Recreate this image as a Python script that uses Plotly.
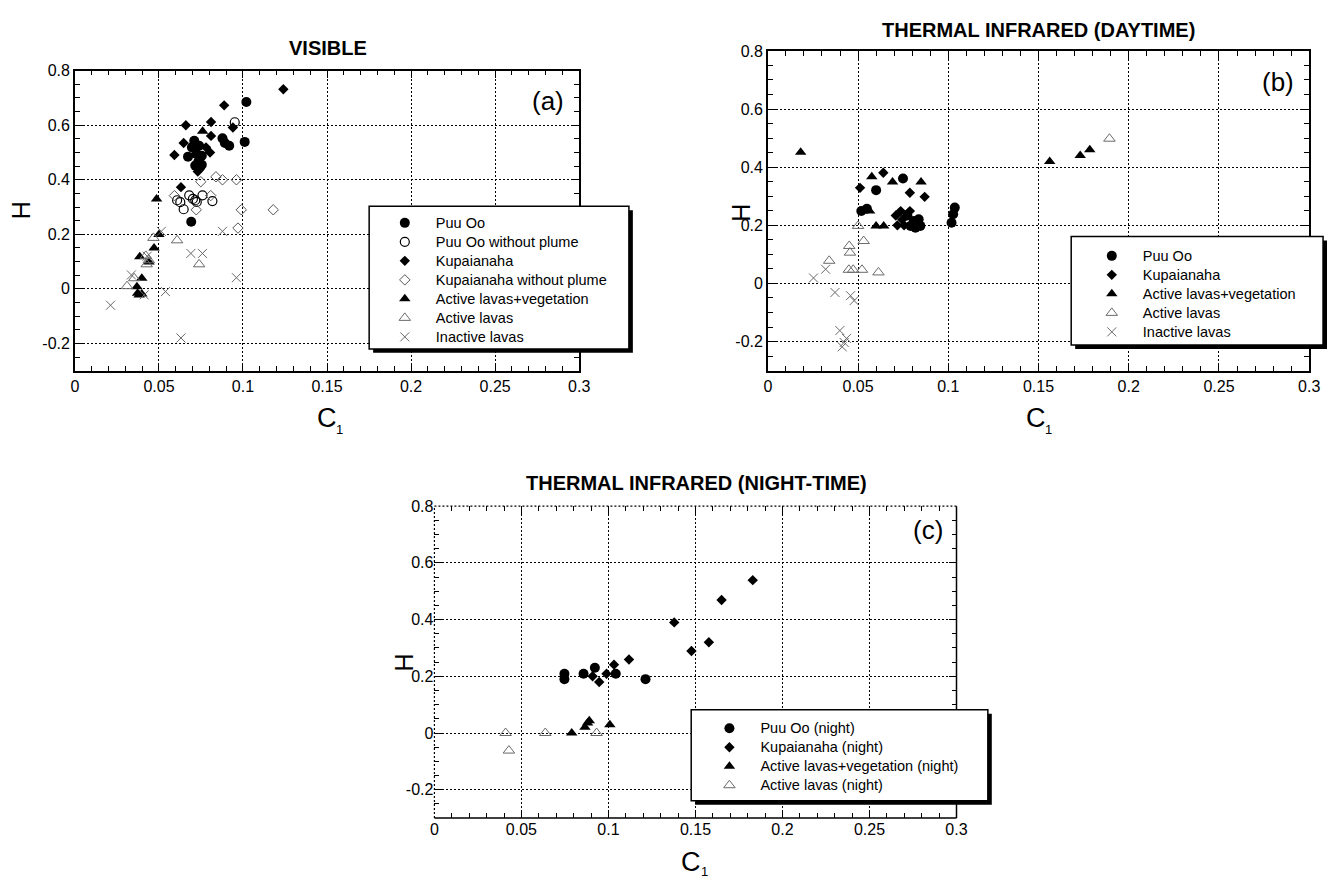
import plotly.graph_objects as go

W, H = 1338, 881

# ---------------- data ----------------
x_ticks = [0, 0.05, 0.1, 0.15, 0.2, 0.25, 0.3]
x_ticklabels = ["0", "0.05", "0.1", "0.15", "0.2", "0.25", "0.3"]
y_ticks = [-0.2, 0, 0.2, 0.4, 0.6, 0.8]
y_ticklabels = ["-0.2", "0", "0.2", "0.4", "0.6", "0.8"]

# Panel (a) VISIBLE
a_puu_x = [0.102, 0.101, 0.0878, 0.0892, 0.0918, 0.071, 0.0696, 0.0673, 0.0739, 0.0722, 0.0755, 0.0735, 0.0716, 0.0745, 0.0755, 0.0692]
a_puu_y = [0.685, 0.539, 0.552, 0.535, 0.525, 0.543, 0.519, 0.485, 0.525, 0.495, 0.488, 0.467, 0.452, 0.446, 0.455, 0.246]
a_puunp_x = [0.0951, 0.0608, 0.0627, 0.0647, 0.068, 0.0702, 0.0716, 0.0725, 0.0759, 0.0818]
a_puunp_y = [0.611, 0.325, 0.318, 0.292, 0.343, 0.33, 0.325, 0.319, 0.343, 0.322]
a_kup_x = [0.124, 0.0888, 0.081, 0.066, 0.081, 0.094, 0.0647, 0.0592, 0.078, 0.0804, 0.0731, 0.0631]
a_kup_y = [0.732, 0.673, 0.612, 0.6, 0.561, 0.592, 0.535, 0.491, 0.519, 0.50, 0.43, 0.373]
a_kupnp_x = [0.0749, 0.0839, 0.0878, 0.0961, 0.0592, 0.0808, 0.0722, 0.099, 0.118, 0.097]
a_kupnp_y = [0.393, 0.411, 0.40, 0.40, 0.342, 0.342, 0.29, 0.29, 0.29, 0.223]
a_alv_x = [0.076, 0.0486, 0.05, 0.0471, 0.0386, 0.0441, 0.0398, 0.0369, 0.0373, 0.0382, 0.0398]
a_alv_y = [0.578, 0.33, 0.199, 0.15, 0.118, 0.099, 0.039, 0.008, -0.016, -0.022, -0.019]
a_al_x = [0.0467, 0.0608, 0.0422, 0.0427, 0.0739, 0.031, 0.0353, 0.044]
a_al_y = [0.187, 0.178, 0.121, 0.09, 0.09, 0.01, 0.039, 0.105]
a_in_x = [0.0514, 0.0878, 0.069, 0.0759, 0.0961, 0.0336, 0.0539, 0.0212, 0.0631, 0.0412, 0.043]
a_in_y = [0.211, 0.211, 0.13, 0.13, 0.041, 0.051, -0.01, -0.06, -0.18, -0.022, 0.12]

# Panel (b) THERMAL INFRARED (DAYTIME)
b_puu_x = [0.0749, 0.06, 0.0518, 0.0549, 0.1036, 0.1027, 0.1018, 0.0773, 0.0809, 0.0836, 0.0818, 0.0845, 0.0791]
b_puu_y = [0.361, 0.321, 0.249, 0.257, 0.261, 0.238, 0.209, 0.234, 0.215, 0.221, 0.192, 0.198, 0.198]
b_kup_x = [0.0511, 0.064, 0.0787, 0.0869, 0.0736, 0.0787, 0.0709, 0.0718, 0.0755, 0.0745]
b_kup_y = [0.329, 0.381, 0.312, 0.298, 0.249, 0.249, 0.234, 0.2, 0.2, 0.22]
b_alv_x = [0.0182, 0.0576, 0.0691, 0.0849, 0.0564, 0.06, 0.0642, 0.1562, 0.1731, 0.1784]
b_alv_y = [0.451, 0.367, 0.349, 0.349, 0.249, 0.198, 0.198, 0.42, 0.44, 0.46]
b_al_x = [0.05, 0.0531, 0.0451, 0.0455, 0.034, 0.0449, 0.0473, 0.0522, 0.0613, 0.1893]
b_al_y = [0.198, 0.146, 0.129, 0.106, 0.078, 0.047, 0.047, 0.047, 0.038, 0.498]
b_in_x = [0.0253, 0.032, 0.0372, 0.0458, 0.0478, 0.0399, 0.0436, 0.0412, 0.0423]
b_in_y = [0.019, 0.049, -0.031, -0.042, -0.059, -0.162, -0.189, -0.218, -0.203]

# Panel (c) THERMAL INFRARED (NIGHT-TIME)
c_puu_x = [0.0747, 0.0747, 0.0857, 0.0922, 0.1042, 0.1213]
c_puu_y = [0.209, 0.19, 0.209, 0.23, 0.209, 0.19]
c_kup_x = [0.0909, 0.0947, 0.0989, 0.1032, 0.1118, 0.1378, 0.1477, 0.1577, 0.165, 0.1829]
c_kup_y = [0.2, 0.18, 0.209, 0.241, 0.259, 0.39, 0.289, 0.32, 0.469, 0.539]
c_alv_x = [0.0789, 0.0865, 0.088, 0.089, 0.1008]
c_alv_y = [0.0, 0.02, 0.035, 0.043, 0.029]
c_al_x = [0.0409, 0.0428, 0.0637, 0.0932]
c_al_y = [0.0, -0.062, 0.0, 0.0]

titles = ["VISIBLE", "THERMAL INFRARED (DAYTIME)", "THERMAL INFRARED (NIGHT-TIME)"]
panel_tags = ["(a)", "(b)", "(c)"]

FONT = "Liberation Sans, Arial, sans-serif"
GRAY = "#6a6a6a"
DOT = "2px,2px"

styles = {
    "puu": dict(symbol="circle", size=10, color="black"),
    "puunp": dict(symbol="circle-open", size=9, color="black", line=dict(width=1.2, color="black")),
    "kup": dict(symbol="diamond", size=8, color="black"),
    "kupnp": dict(symbol="diamond-open", size=8, color="#555555", line=dict(width=1, color="#555555")),
    "alv": dict(symbol="triangle-up", size=10, color="black"),
    "al": dict(symbol="triangle-up-open", size=10, color=GRAY, line=dict(width=1, color=GRAY)),
    "in": dict(symbol="x-thin-open", size=9, color=GRAY, line=dict(width=1, color=GRAY)),
}


def px2paper(x, y):
    return x / W, 1 - y / H


fig = go.Figure()

series = [
    # panel, key, name, xs, ys
    (1, "puu", "Puu Oo", a_puu_x, a_puu_y),
    (1, "puunp", "Puu Oo without plume", a_puunp_x, a_puunp_y),
    (1, "kup", "Kupaianaha", a_kup_x, a_kup_y),
    (1, "kupnp", "Kupaianaha without plume", a_kupnp_x, a_kupnp_y),
    (1, "alv", "Active lavas+vegetation", a_alv_x, a_alv_y),
    (1, "al", "Active lavas", a_al_x, a_al_y),
    (1, "in", "Inactive lavas", a_in_x, a_in_y),
    (2, "puu", "Puu Oo", b_puu_x, b_puu_y),
    (2, "kup", "Kupaianaha", b_kup_x, b_kup_y),
    (2, "alv", "Active lavas+vegetation", b_alv_x, b_alv_y),
    (2, "al", "Active lavas", b_al_x, b_al_y),
    (2, "in", "Inactive lavas", b_in_x, b_in_y),
    (3, "puu", "Puu Oo (night)", c_puu_x, c_puu_y),
    (3, "kup", "Kupaianaha (night)", c_kup_x, c_kup_y),
    (3, "alv", "Active lavas+vegetation (night)", c_alv_x, c_alv_y),
    (3, "al", "Active lavas (night)", c_al_x, c_al_y),
]

for p, key, name, xs, ys in series:
    sfx = "" if p == 1 else str(p)
    fig.add_trace(go.Scatter(
        x=xs, y=ys, mode="markers",
        name='<span style="font-size:14.5px">%s</span>' % name,
        marker=styles[key],
        xaxis="x" + sfx, yaxis="y" + sfx,
        legend="legend" + sfx,
    ))

# axis pixel frames: left, right, top, bottom
frames = [
    (71.7, 581.7, 63.3, 366.0),
    (772.5, 1320.0, 43.3, 366.0),
    (435.3, 963.3, 502.7, 817.5),
]

axis_common = dict(
    linecolor="black", linewidth=1.5, mirror="ticks",
    ticks="inside", ticklen=8, tickwidth=1, tickcolor="black",
    showgrid=True, gridcolor="black", gridwidth=1, griddash=DOT,
    zeroline=False, tickfont=dict(family=FONT, size=16, color="black"),
    fixedrange=True,
)

layout = dict(
    width=W, height=H, autosize=False,
    margin=dict(l=0, r=0, t=0, b=0, pad=0),
    paper_bgcolor="white", plot_bgcolor="white",
    font=dict(family=FONT, color="black"),
)

for i, (l, r, t, b) in enumerate(frames):
    sfx = "" if i == 0 else str(i + 1)
    solid_frame = i < 2  # panel (c) has dotted top/left edges, drawn below as shapes
    layout["xaxis" + sfx] = dict(
        axis_common, showline=solid_frame, domain=[l / W, r / W], range=[0, 0.3],
        tickmode="array", tickvals=x_ticks, ticktext=x_ticklabels,
        minor=dict(dtick=0.01, tick0=0, ticks="inside", ticklen=5, tickcolor="black", showgrid=False),
        anchor="y" + sfx,
    )
    layout["yaxis" + sfx] = dict(
        axis_common, showline=solid_frame, domain=[1 - b / H, 1 - t / H], range=[-0.3, 0.8],
        tickmode="array", tickvals=y_ticks, ticktext=y_ticklabels,
        minor=dict(dtick=0.05, tick0=0, ticks="inside", ticklen=5, tickcolor="black", showgrid=False),
        anchor="x" + sfx,
    )

shapes = []

# frame of panel (c): solid bottom/right, dotted top/left
l, r, t, b = frames[2]
edge_specs = [
    ((l, b), (r, b), dict(width=1.5, color="black")),
    ((r, b), (r, t), dict(width=1.5, color="black")),
    ((l, t), (r, t), dict(width=1.2, color="black", dash=DOT)),
    ((l, b), (l, t), dict(width=1.2, color="black", dash=DOT)),
]
for (p0, p1, ln) in edge_specs:
    x0, y0 = px2paper(*p0)
    x1, y1 = px2paper(*p1)
    shapes.append(dict(type="line", xref="paper", yref="paper", x0=x0, y0=y0, x1=x1, y1=y1,
                       line=ln, layer="above"))

# legend boxes (left, top, right, bottom) and legend anchor (left, top)
boxes = [
    (369.3, 200.0, 632.0, 344.0),
    (1079.3, 230.7, 1334.0, 340.0),
    (695.0, 708.3, 995.0, 800.0),
]
legend_pos = [
    (374.0, 202.2),
    (1089.0, 235.5),
    (702.3, 712.2),
]

for (l, t, r, b) in boxes:
    x0, y0 = px2paper(l + 4, b + 4)
    x1, y1 = px2paper(r + 4, t + 4)
    shapes.append(dict(type="rect", xref="paper", yref="paper", x0=x0, y0=y0, x1=x1, y1=y1,
                       fillcolor="black", line=dict(width=0), layer="above"))
    x0, y0 = px2paper(l, b)
    x1, y1 = px2paper(r, t)
    shapes.append(dict(type="rect", xref="paper", yref="paper", x0=x0, y0=y0, x1=x1, y1=y1,
                       fillcolor="white", line=dict(width=1.5, color="black"), layer="above"))
layout["shapes"] = shapes

for i, (lx, ly) in enumerate(legend_pos):
    key = "legend" if i == 0 else "legend" + str(i + 1)
    x, y = px2paper(lx, ly)
    layout[key] = dict(
        x=x, y=y, xanchor="left", yanchor="top", xref="paper", yref="paper",
        bgcolor="rgba(0,0,0,0)", borderwidth=0, itemwidth=52,
        font=dict(family=FONT, size=12, color="black"),
        tracegroupgap=0, itemclick=False, itemdoubleclick=False,
    )

annotations = []


def ann(text, x, y, size, bold=False, angle=0):
    ax, ay = px2paper(x, y)
    annotations.append(dict(
        text=("<b>%s</b>" % text) if bold else text, x=ax, y=ay, xref="paper", yref="paper",
        xanchor="center", yanchor="middle", showarrow=False, textangle=angle,
        font=dict(family=FONT, size=size, color="black"),
    ))


title_pos = [(328, 40.5), (1046, 22), (700, 479)]
tag_pos = [(550.5, 94), (1288, 75), (934, 527)]
h_pos = [(17.5, 203.7), (745, 207), (405, 660)]
c_pos = [(326.7, 413.3), (1044, 413.3), (695, 861.7)]
sub_pos = [(339.2, 425), (1056.5, 425), (708.3, 871.5)]

for i in range(3):
    ann(titles[i], *title_pos[i], 20, bold=True)
    ann(panel_tags[i], *tag_pos[i], 26)
    ann("H", *h_pos[i], 25, angle=-90)
    ann("C", *c_pos[i], 27)
    ann("1", *sub_pos[i], 13)

layout["annotations"] = annotations
fig.update_layout(**layout)

# reset the page margin synchronously so the figure sits at the window origin
page_css = ("}); document.head.insertAdjacentHTML('beforeend', "
            "'<style>html,body{margin:0;padding:0;overflow:hidden}</style>'); (function(){")

fig.write_html("out.html", config=dict(displayModeBar=False), post_script=page_css)
